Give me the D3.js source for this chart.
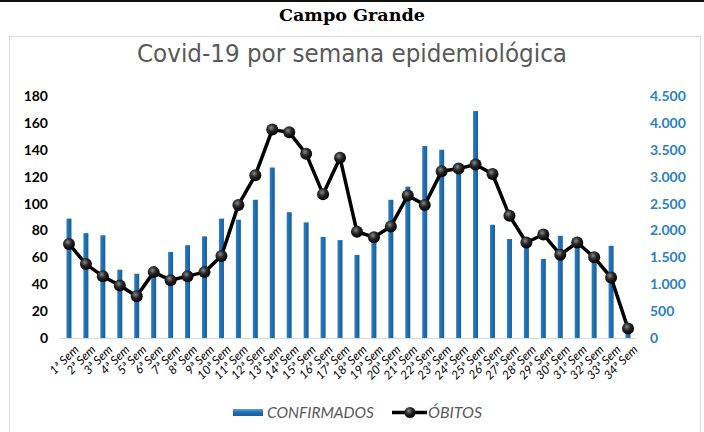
<!DOCTYPE html>
<html><head><meta charset="utf-8">
<script src="https://cdn.jsdelivr.net/npm/d3@7"></script>
<style>
html,body{margin:0;padding:0;background:#fff;}
svg{display:block;}
</style></head>
<body>
<svg id="c" width="704" height="432"></svg>
<script>
const weeks = ["1ª Sem","2ª Sem","3ª Sem","4ª Sem","5ª Sem","6ª Sem","7ª Sem","8ª Sem","9ª Sem","10ª Sem","11ª Sem","12ª Sem","13ª Sem","14ª Sem","15ª Sem","16ª Sem","17ª Sem","18ª Sem","19ª Sem","20ª Sem","21ª Sem","22ª Sem","23ª Sem","24ª Sem","25ª Sem","26ª Sem","27ª Sem","28ª Sem","29ª Sem","30ª Sem","31ª Sem","32ª Sem","33ª Sem","34ª Sem"];
const confirmados = [2220,1950,1910,1270,1195,1180,1600,1725,1890,2220,2200,2570,3170,2340,2150,1880,1820,1545,1850,2570,2815,3570,3500,3150,4220,2105,1840,1790,1470,1900,1780,1480,1715,120];
const obitos = [70,55,46,39,31,49,43,46,49,61,99,121,155,153,137,107,134,79,75,83,106,99,124,126,129,122,91,71,77,62,71,60,45,7];
const leftTicks = [0,20,40,60,80,100,120,140,160,180];
const rightTicks = [0,500,1000,1500,2000,2500,3000,3500,4000,4500];

const svg = d3.select("#c");
const W = 704, H = 432;
const m = {left:60.5, right:636.5, top:96, bottom:338};

const defs = svg.append("defs");
const bg = defs.append("linearGradient").attr("id","barg").attr("x1","0").attr("x2","1").attr("y1","0").attr("y2","0");
bg.append("stop").attr("offset","0%").attr("stop-color","#2f7fc1");
bg.append("stop").attr("offset","50%").attr("stop-color","#1e6db0");
bg.append("stop").attr("offset","100%").attr("stop-color","#195f9c");
const rg = defs.append("radialGradient").attr("id","dotg").attr("cx","40%").attr("cy","35%").attr("r","65%");
rg.append("stop").attr("offset","0%").attr("stop-color","#8a8a8a");
rg.append("stop").attr("offset","45%").attr("stop-color","#2a2a2a");
rg.append("stop").attr("offset","100%").attr("stop-color","#000");
const lg = defs.append("linearGradient").attr("id","legg").attr("x1","0").attr("x2","0").attr("y1","0").attr("y2","1");
lg.append("stop").attr("offset","0%").attr("stop-color","#5aa3dd");
lg.append("stop").attr("offset","50%").attr("stop-color","#1e6db0");
lg.append("stop").attr("offset","100%").attr("stop-color","#1a5f9c");

// top rule
svg.append("rect").attr("x",0).attr("y",0).attr("width",W).attr("height",2).attr("fill","#111");
svg.append("text").attr("x",352).attr("y",21).attr("text-anchor","middle")
  .attr("font-family","DejaVu Serif").attr("font-weight","bold").attr("font-size",16).attr("fill","#000")
  .attr("textLength",146).attr("lengthAdjust","spacingAndGlyphs")
  .text("Campo Grande");

// chart box
svg.append("rect").attr("x",9.5).attr("y",36.5).attr("width",691).attr("height",420)
  .attr("fill","#fff").attr("stroke","#d9d9d9").attr("stroke-width",1);

svg.append("text").attr("x",352).attr("y",62).attr("text-anchor","middle")
  .attr("font-family","'Liberation Sans Narrow','DejaVu Sans Condensed','Open Sans',sans-serif")
  .attr("font-size",25).attr("fill","#595959")
  .attr("textLength",430).attr("lengthAdjust","spacingAndGlyphs")
  .text("Covid-19 por semana epidemiológica");

const xc = d3.scalePoint().domain(weeks).range([m.left,m.right]).padding(0.5);
const yL = d3.scaleLinear().domain([0,180]).range([m.bottom,m.top]);
const yR = d3.scaleLinear().domain([0,4500]).range([m.bottom,m.top]);

// bars
const bw = 5;
svg.append("g").selectAll("rect").data(confirmados).join("rect")
  .attr("x",(d,i)=>xc(weeks[i])-bw/2).attr("width",bw)
  .attr("y",d=>yR(d)).attr("height",d=>yR(0)-yR(d))
  .attr("fill","url(#barg)");

// x axis line
svg.append("line").attr("x1",m.left).attr("x2",m.right).attr("y1",m.bottom+0.5).attr("y2",m.bottom+0.5)
  .attr("stroke","#d9d9d9").attr("stroke-width",1);

// left axis
const gl = svg.append("g").attr("transform",`translate(${48},0)`)
  .call(d3.axisLeft(yL).tickValues(leftTicks).tickSize(0).tickPadding(0));
gl.select(".domain").remove();
gl.selectAll("text").attr("font-family","Lato, 'Open Sans', sans-serif").attr("font-weight","bold")
  .attr("font-size",14).attr("fill","#000").attr("text-anchor","end");

// right axis
const gr = svg.append("g").attr("transform",`translate(${650},0)`)
  .call(d3.axisRight(yR).tickValues(rightTicks).tickSize(0).tickPadding(0)
    .tickFormat(d=>d3.format(",")(d).replace(/,/g,".")));
gr.select(".domain").remove();
gr.selectAll("text").attr("font-family","Lato, 'Open Sans', sans-serif").attr("font-weight","bold")
  .attr("font-size",14).attr("fill","#2a7fc6").attr("text-anchor","start");

// x labels
const gx = svg.append("g").attr("transform",`translate(0,${m.bottom+6})`);
gx.selectAll("text").data(weeks).join("text")
  .attr("transform",d=>`translate(${xc(d)+4},0) rotate(-45)`)
  .attr("text-anchor","end").attr("dy","0.75em")
  .attr("font-family","Lato, 'Open Sans', sans-serif").attr("font-style","italic")
  .attr("font-size",12).attr("fill","#000")
  .text(d=>d);

// line
const line = d3.line().x((d,i)=>xc(weeks[i])).y(d=>yL(d));
svg.append("path").datum(obitos).attr("d",line).attr("fill","none")
  .attr("stroke","#000").attr("stroke-width",3.5).attr("stroke-linejoin","round");
svg.append("g").selectAll("circle").data(obitos).join("circle")
  .attr("cx",(d,i)=>xc(weeks[i])).attr("cy",d=>yL(d)).attr("r",6)
  .attr("fill","url(#dotg)");

// legend
const leg = svg.append("g");
leg.append("rect").attr("x",233).attr("y",409).attr("width",30).attr("height",7).attr("fill","url(#legg)");
leg.append("text").attr("x",267).attr("y",418).attr("font-family","Lato, 'Open Sans', sans-serif")
  .attr("font-style","italic").attr("font-size",15).attr("fill","#595959")
  .attr("textLength",107).attr("lengthAdjust","spacingAndGlyphs").text("CONFIRMADOS");
leg.append("line").attr("x1",392).attr("x2",427).attr("y1",412.5).attr("y2",412.5).attr("stroke","#000").attr("stroke-width",3.5);
leg.append("circle").attr("cx",410).attr("cy",412.5).attr("r",5.5).attr("fill","url(#dotg)");
leg.append("text").attr("x",428).attr("y",418).attr("font-family","Lato, 'Open Sans', sans-serif")
  .attr("font-style","italic").attr("font-size",15).attr("fill","#595959")
  .attr("textLength",54).attr("lengthAdjust","spacingAndGlyphs").text("ÓBITOS");
</script>
</body></html>
